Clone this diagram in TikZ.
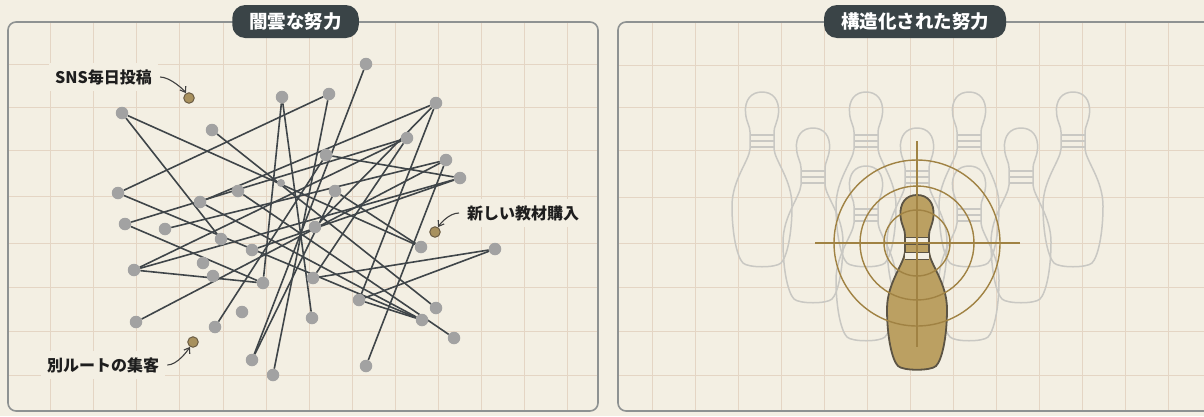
\documentclass[tikz,border=0pt]{standalone}
\usepackage{fontspec}
\setmainfont{Noto Sans CJK JP}
\usetikzlibrary{arrows.meta}

\definecolor{paper}{HTML}{F3EFE3}
\definecolor{panelrule}{HTML}{8E9292}
\definecolor{gridcol}{HTML}{E4D5C4}
\definecolor{tabfill}{HTML}{3A4447}
\definecolor{dotgray}{HTML}{A2A2A2}
\definecolor{wirecol}{HTML}{3F4549}
\definecolor{tanfill}{HTML}{A8915E}
\definecolor{tanrule}{HTML}{6A5C44}
\definecolor{pingray}{HTML}{C9C8C3}
\definecolor{goldfill}{HTML}{BBA062}
\definecolor{goldrule}{HTML}{5C5444}
\definecolor{targetcol}{HTML}{A08243}
\definecolor{inkcol}{HTML}{1E1E1E}

\pgfdeclarelayer{back}
\pgfdeclarelayer{wires}
\pgfsetlayers{back,wires,main}

\tikzset{
  gridline/.style={draw=gridcol, line width=1pt},
  panel/.style={draw=panelrule, line width=1.6pt, rounded corners=8pt},
  tab/.style={fill=tabfill, text=white, rounded corners=13pt, minimum height=33pt,
    inner xsep=17pt, inner ysep=0pt, font=\fontsize{18.5}{20}\selectfont\bfseries},
  gdot/.style={circle, fill=dotgray, minimum size=12.5pt, inner sep=0pt},
  tdot/.style={circle, fill=tanfill, draw=tanrule, line width=1pt, minimum size=10.5pt, inner sep=0pt},
  wire/.style={draw=wirecol, line width=1.6pt},
  lbl/.style={fill=paper, text=inkcol, inner xsep=6pt, inner ysep=6pt,
    font=\fontsize{16}{18}\selectfont\bfseries},
  callout/.style={draw=inkcol!85, line width=1.1pt, -{Straight Barb[length=5pt,width=7pt]}},
  bowlingpin/.pic={
    \path[pic actions]
      (0,0) .. controls (11,0) and (17.5,8) .. (16.5,21)
      .. controls (15.5,31) and (12,34) .. (12,40) -- (12,57)
      .. controls (13,69) and (30,88) .. (30,114)
      .. controls (30,142) and (25,165) .. (19,171)
      .. controls (14,176) and (-14,176) .. (-19,171)
      .. controls (-25,165) and (-30,142) .. (-30,114)
      .. controls (-30,88) and (-13,69) .. (-12,57) -- (-12,40)
      .. controls (-12,34) and (-15.5,31) .. (-16.5,21)
      .. controls (-17.5,8) and (-11,0) .. (0,0) -- cycle;
  },
  pinbands/.pic={
    \path[pic actions] (-12,43) -- (12,43) (-12,49) -- (12,49) (-12.3,55) -- (12.3,55);
  }
}

\begin{document}
\begin{tikzpicture}[x=1pt,y=-1pt]
\useasboundingbox (0,0) rectangle (1204,416);

% paper, grids and panel frames
\begin{pgfonlayer}{back}
  \fill[paper] (0,0) rectangle (1204,416);
  \begin{scope}
    \clip[rounded corners=8pt] (8,22) rectangle (598,411);
    \foreach \gx in {50,93,136,179,223,266,309,352,395,438,481,524,567}
      \draw[gridline] (\gx,22) -- (\gx,411);
    \foreach \gy in {64,107,150,196,243,287,331,375}
      \draw[gridline] (8,\gy) -- (598,\gy);
  \end{scope}
  \begin{scope}
    \clip[rounded corners=8pt] (618,22) rectangle (1220,411);
    \foreach \gx in {652,695,738,781,824,867,910,953,996,1039,1082,1125,1168}
      \draw[gridline] (\gx,22) -- (\gx,411);
    \foreach \gy in {65,107,150,197,243,287,331,375}
      \draw[gridline] (618,\gy) -- (1220,\gy);
  \end{scope}
  \draw[panel] (8,22) rectangle (598,411);
  \draw[panel] (618,22) rectangle (1220,411);
\end{pgfonlayer}

% scattered efforts: dots
\node[gdot] (d1)  at (122,113) {};
\node[gdot] (d2)  at (212,130) {};
\node[gdot] (d3)  at (282,97)  {};
\node[gdot] (d4)  at (329,94)  {};
\node[gdot] (d5)  at (366,64)  {};
\node[gdot] (d6)  at (436,103) {};
\node[gdot] (d7)  at (407,138) {};
\node[gdot] (d8)  at (326,155) {};
\node[gdot] (d9)  at (446,160) {};
\node[gdot] (d10) at (460,178) {};
\node[gdot] (d11) at (118,193) {};
\node[gdot] (d12) at (238,191) {};
\node[gdot] (d13) at (200,202) {};
\node[gdot] (d14) at (335,191) {};
\node[gdot] (d15) at (125,224) {};
\node[gdot] (d16) at (165,229) {};
\node[gdot] (d17) at (221,239) {};
\node[gdot] (d18) at (252,250) {};
\node[gdot] (d19) at (203,263) {};
\node[gdot] (d20) at (134,270) {};
\node[gdot] (d21) at (213,276) {};
\node[gdot] (d22) at (263,283) {};
\node[gdot] (d23) at (315,227) {};
\node[gdot] (d24) at (421,247) {};
\node[gdot] (d25) at (495,249) {};
\node[gdot] (d26) at (313,278) {};
\node[gdot] (d27) at (359,300) {};
\node[gdot] (d28) at (436,308) {};
\node[gdot] (d29) at (422,320) {};
\node[gdot] (d30) at (312,318) {};
\node[gdot] (d31) at (454,338) {};
\node[gdot] (d32) at (366,366) {};
\node[gdot] (d33) at (136,322) {};
\node[gdot] (d34) at (242,312) {};
\node[gdot] (d35) at (215,327) {};
\node[gdot] (d36) at (252,360) {};
\node[gdot] (d37) at (273,375) {};
\node[gdot, minimum size=8pt] (d38) at (281,183) {};

% highlighted dots
\node[tdot] (t1) at (189,98)  {};
\node[tdot] (t2) at (435,232) {};
\node[tdot] (t3) at (193,342) {};

% tangled connections
\begin{pgfonlayer}{wires}
  \foreach \a/\b in {d1/d24, d1/d17, d2/d28, d11/d4, d3/d22, d3/d30, d6/d13, d6/d27,
      d7/d20, d7/d26, d8/d10, d9/d16, d10/d18, d20/d10, d15/d7, d15/d22, d20/d22,
      d33/d9, d5/d36, d4/d37, d35/d8, d36/d14, d12/d31, d13/d29, d23/d6,
      d14/d24, d25/d26, d25/d27, d27/d29, d32/d9, d11/d29}
    \draw[wire] (\a) -- (\b);
\end{pgfonlayer}

% labels with callouts
\node[lbl, anchor=west] (lsns) at (49,77) {SNS毎日投稿};
\node[lbl, anchor=west] (lnew) at (461,213) {新しい教材購入};
\node[lbl, anchor=west] (lalt) at (41,365) {別ルートの集客};
\draw[callout] ([xshift=2pt]lsns.east) .. controls +(10,0) and +(-5,-8) .. (t1);
\draw[callout] ([xshift=-2pt]lnew.west) .. controls +(-10,0) and +(5,-8) .. (t2);
\draw[callout] ([xshift=2pt]lalt.east) .. controls +(10,0) and +(-5,8) .. (t3);

% structured effort: pins, back row first
\foreach \px/\py in {762/92, 866/92, 969/92, 1073/92,
                     813/128, 917/128, 1021/128,
                     866/166, 969/166} {
  \pic[draw=pingray, line width=1.5pt] at (\px,\py) {bowlingpin};
  \pic[draw=pingray, line width=1.2pt] at (\px,\py) {pinbands};
}

% head pin
\pic[draw=goldrule, fill=goldfill, line width=1.8pt] at (917,195) {bowlingpin};
\begin{scope}[shift={(917,195)}]
  \fill[paper] (-12,42) rectangle (12,49);
  \fill[paper] (-12.4,57) rectangle (12.4,64);
  \draw[goldrule, line width=1pt] (-12,42) -- (12,42) (-12,49) -- (12,49)
                                 (-12.4,57) -- (12.4,57) (-12.4,64) -- (12.4,64);
  \draw[goldrule, line width=1.8pt] (-12,40) -- (-12,57) (12,40) -- (12,57);
\end{scope}

% aim: rings and crosshair
\begin{scope}[draw=targetcol, line width=1.4pt]
  \draw (917,243) circle (83);
  \draw (917,243) circle (57);
  \draw (917,243) circle (33);
  \draw (815,243) -- (1020,243);
  \draw (917,141) -- (917,347);
\end{scope}

% panel titles
\node[tab] (tabL) at (295.5,21.5) {闇雲な努力};
\node[tab] (tabR) at (915,21.5) {構造化された努力};
\end{tikzpicture}
\end{document}
